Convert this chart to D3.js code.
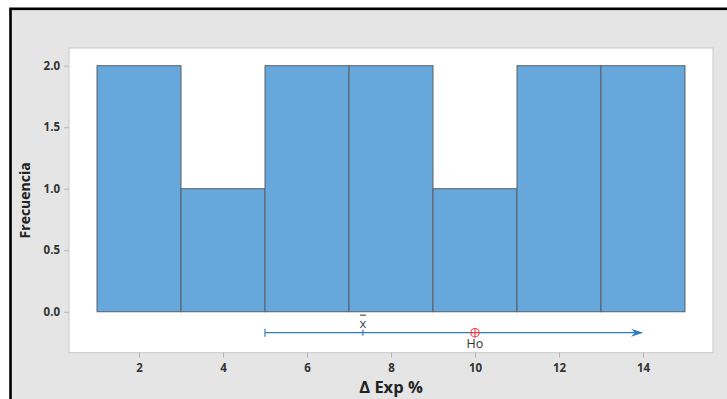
<!DOCTYPE html>
<html>
<head>
<meta charset="utf-8">
<script src="https://cdn.jsdelivr.net/npm/d3@7"></script>
<style>
html,body{margin:0;padding:0;background:#fff;}
svg{display:block;}
text{font-family:"Open Sans","Noto Sans",sans-serif;}
</style>
</head>
<body>
<svg id="chart" width="727" height="399"></svg>
<script>
// Data
const binEdges = [1, 3, 5, 7, 9, 11, 13, 15];
const frequencies = [2, 1, 2, 2, 1, 2, 2];
const xTicks = [2, 4, 6, 8, 10, 12, 14];
const yTicks = [0, 0.5, 1.0, 1.5, 2.0];
const intervalLow = 5;
const intervalHigh = 14;
const meanValue = 7.33;
const h0Value = 10;
const intervalY = -0.17;
const xLabel = "Δ Exp %";
const yLabel = "Frecuencia";

const svg = d3.select("#chart");
const W = 727, H = 399;

// Background frame
svg.append("rect").attr("x", 10.5).attr("y", 8.8).attr("width", W).attr("height", H)
  .attr("fill", "#e5e5e5").attr("stroke", "#000").attr("stroke-width", 2.6);

const plot = {left: 69, right: 713, top: 48, bottom: 352.7};
const x = d3.scaleLinear().domain([0.333, 15.667]).range([plot.left, plot.right]);
const y = d3.scaleLinear().domain([-0.333, 2.144]).range([plot.bottom, plot.top]);

svg.append("rect").attr("x", plot.left).attr("y", plot.top)
  .attr("width", plot.right - plot.left).attr("height", plot.bottom - plot.top)
  .attr("fill", "#fff").attr("stroke", "#c9c9c9").attr("stroke-width", 1);

// Bars
const bins = frequencies.map((f, i) => ({x0: binEdges[i], x1: binEdges[i + 1], f}));
svg.append("g").selectAll("rect").data(bins).join("rect")
  .attr("x", d => x(d.x0)).attr("y", d => y(d.f))
  .attr("width", d => x(d.x1) - x(d.x0)).attr("height", d => y(0) - y(d.f))
  .attr("fill", "#66a8dc").attr("stroke", "#5a5f66").attr("stroke-width", 1);

// Axes
const xAxis = svg.append("g").attr("transform", `translate(0,${plot.bottom})`)
  .call(d3.axisBottom(x).tickValues(xTicks).tickSize(5).tickPadding(6).tickFormat(d3.format("d")));
const yAxis = svg.append("g").attr("transform", `translate(${plot.left},0)`)
  .call(d3.axisLeft(y).tickValues(yTicks).tickSize(5).tickPadding(4).tickFormat(d3.format(".1f")));
[xAxis, yAxis].forEach(a => {
  a.select(".domain").remove();
  a.selectAll(".tick line").attr("stroke", "#b5b5b5");
  a.selectAll(".tick text").attr("fill", "#333").attr("font-size", 11.5).attr("font-weight", "bold");
});

// Interval line
const blue = "#2d7cc4";
const iy = y(intervalY);
svg.append("line").attr("x1", x(intervalLow)).attr("x2", x(intervalHigh) - 1)
  .attr("y1", iy).attr("y2", iy).attr("stroke", blue).attr("stroke-width", 1.2);
svg.append("line").attr("x1", x(intervalLow)).attr("x2", x(intervalLow))
  .attr("y1", iy - 4).attr("y2", iy + 4).attr("stroke", blue).attr("stroke-width", 1.2);
svg.append("line").attr("x1", x(meanValue)).attr("x2", x(meanValue))
  .attr("y1", iy - 3).attr("y2", iy + 3).attr("stroke", blue).attr("stroke-width", 1.2);
// arrow head
svg.append("path")
  .attr("d", `M${x(intervalHigh) - 12},${iy - 4} L${x(intervalHigh)},${iy} L${x(intervalHigh) - 12},${iy + 4} L${x(intervalHigh) - 8},${iy} Z`)
  .attr("fill", blue);

// x-bar label
svg.append("text").attr("x", x(meanValue)).attr("y", iy - 5).attr("text-anchor", "middle")
  .attr("font-size", 13).attr("fill", "#444").text("x");
svg.append("line").attr("x1", x(meanValue) - 3).attr("x2", x(meanValue) + 3)
  .attr("y1", iy - 17.5).attr("y2", iy - 17.5).attr("stroke", "#444").attr("stroke-width", 1.1);

// H0 marker
const hx = x(h0Value);
svg.append("circle").attr("cx", hx).attr("cy", iy).attr("r", 4.2)
  .attr("fill", "none").attr("stroke", "#f0404a").attr("stroke-width", 1.1);
svg.append("line").attr("x1", hx - 5).attr("x2", hx + 5).attr("y1", iy).attr("y2", iy)
  .attr("stroke", "#f0404a").attr("stroke-width", 1.1);
svg.append("line").attr("x1", hx).attr("x2", hx).attr("y1", iy - 5).attr("y2", iy + 5)
  .attr("stroke", "#f0404a").attr("stroke-width", 1.1);
svg.append("text").attr("x", hx).attr("y", iy + 15).attr("text-anchor", "middle")
  .attr("font-size", 12.5).attr("fill", "#333").text("Ho");

// Axis titles
svg.append("text").attr("x", (plot.left + plot.right) / 2).attr("y", 393)
  .attr("text-anchor", "middle").attr("font-size", 16.5).attr("font-weight", "bold")
  .attr("fill", "#222").text(xLabel);
svg.append("text").attr("transform", `translate(30,${(plot.top + plot.bottom) / 2}) rotate(-90)`)
  .attr("text-anchor", "middle").attr("font-size", 14).attr("font-weight", "bold")
  .attr("fill", "#222").text(yLabel);
</script>
</body>
</html>
